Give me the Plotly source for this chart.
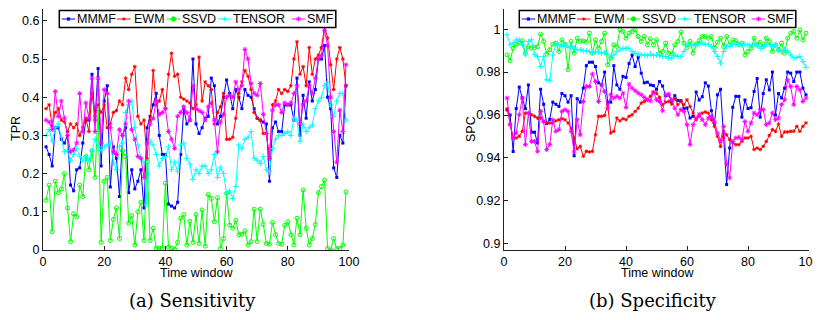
import plotly.graph_objects as go

# the page body has an 8px margin, so the figure is drawn 8px smaller and
# every reference pixel position is shifted by that amount
PAGE_W, PAGE_H = 821, 320
BODY = 8
W, H = PAGE_W - BODY, PAGE_H - BODY

time_window = list(range(1, 100))

# (a) Sensitivity (TPR)
tpr_mmmf = [0.27, 0.25, 0.22, 0.32, 0.32, 0.29, 0.28, 0.30, 0.17, 0.155,
            0.21, 0.215, 0.28, 0.34, 0.34, 0.46, 0.34, 0.475, 0.22, 0.39,
            0.43, 0.165, 0.27, 0.24, 0.14, 0.30, 0.32, 0.15, 0.21, 0.16,
            0.18, 0.21, 0.11, 0.32, 0.35, 0.38, 0.41, 0.30, 0.25, 0.25,
            0.12, 0.115, 0.11, 0.125, 0.25, 0.37, 0.33, 0.34, 0.50, 0.33,
            0.305, 0.32, 0.345, 0.35, 0.45, 0.43, 0.33, 0.35, 0.40, 0.445,
            0.41, 0.37, 0.42, 0.40, 0.37, 0.42, 0.405, 0.40, 0.37, 0.345,
            0.34, 0.335, 0.33, 0.18, 0.32, 0.335, 0.31, 0.31, 0.38, 0.38,
            0.38, 0.34, 0.45, 0.30, 0.405, 0.345, 0.44, 0.39, 0.42, 0.50,
            0.50, 0.535, 0.40, 0.37, 0.215, 0.19, 0.30, 0.28, 0.43]
tpr_ewm = [0.37, 0.38, 0.325, 0.36, 0.37, 0.34, 0.335, 0.31, 0.33, 0.32,
           0.33, 0.30, 0.32, 0.345, 0.31, 0.41, 0.35, 0.38, 0.36, 0.38,
           0.32, 0.33, 0.36, 0.365, 0.39, 0.38, 0.45, 0.42, 0.46, 0.48,
           0.35, 0.33, 0.34, 0.24, 0.34, 0.47, 0.38, 0.39, 0.42, 0.37,
           0.46, 0.515, 0.455, 0.46, 0.40, 0.395, 0.39, 0.385, 0.37, 0.38,
           0.505, 0.39, 0.44, 0.43, 0.42, 0.33, 0.36, 0.375, 0.41, 0.29,
           0.29, 0.295, 0.345, 0.41, 0.44, 0.47, 0.455, 0.42, 0.36, 0.345,
           0.34, 0.305, 0.305, 0.24, 0.38, 0.39, 0.42, 0.41, 0.42, 0.415,
           0.43, 0.50, 0.545, 0.46, 0.48, 0.43, 0.53, 0.46, 0.50, 0.51,
           0.53, 0.585, 0.555, 0.485, 0.42, 0.50, 0.53, 0.50, 0.43]
tpr_ssvd = [0.13, 0.17, 0.048, 0.18, 0.15, 0.16, 0.20, 0.11, 0.022, 0.095,
            0.087, 0.17, 0.14, 0.245, 0.21, 0.26, 0.19, 0.37, 0.02, 0.18,
            0.19, 0.025, 0.08, 0.11, 0.03, 0.26, 0.245, 0.07, 0.09, 0.013,
            0.10, 0.125, 0.025, 0.23, 0.025, 0.057, 0.005, 0.005, 0.005, 0.175,
            0.008, 0.005, 0.002, 0.02, 0.083, 0.093, 0.013, 0.075, 0.02, 0.093,
            0.017, 0.105, 0.01, 0.145, 0.135, 0.074, 0.137, 0.004, 0.03, 0.148,
            0.065, 0.057, 0.078, 0.04, 0.041, 0.05, 0.013, 0.022, 0.107, 0.022,
            0.107, 0.067, 0.017, 0.015, 0.072, 0.04, 0.017, 0.015, 0.065, 0.074,
            0.04, 0.013, 0.083, 0.04, 0.157, 0.057, 0.013, 0.03, 0.067, 0.15,
            0.166, 0.183, 0.004, 0.0, 0.03, 0.003, 0.004, 0.013, 0.152]
tpr_tensor = [0.30, 0.315, 0.285, 0.32, 0.33, 0.295, 0.257, 0.26, 0.235, 0.25,
              0.265, 0.245, 0.235, 0.245, 0.235, 0.26, 0.29, 0.27, 0.26, 0.27,
              0.275, 0.28, 0.23, 0.21, 0.27, 0.28, 0.36, 0.38, 0.39, 0.32,
              0.275, 0.24, 0.23, 0.12, 0.285, 0.275, 0.25, 0.22, 0.24, 0.245,
              0.27, 0.21, 0.23, 0.205, 0.275, 0.28, 0.24, 0.225, 0.185, 0.21,
              0.20, 0.22, 0.22, 0.20, 0.21, 0.25, 0.19, 0.215, 0.20, 0.148,
              0.155, 0.135, 0.166, 0.275, 0.265, 0.29, 0.295, 0.31, 0.24, 0.235,
              0.227, 0.245, 0.21, 0.205, 0.266, 0.29, 0.30, 0.30, 0.305, 0.31,
              0.30, 0.345, 0.34, 0.285, 0.33, 0.31, 0.32, 0.327, 0.37, 0.39,
              0.40, 0.43, 0.44, 0.38, 0.35, 0.39, 0.41, 0.41, 0.34]
tpr_smf = [0.34, 0.335, 0.315, 0.415, 0.35, 0.39, 0.345, 0.30, 0.257, 0.262,
           0.28, 0.41, 0.31, 0.385, 0.345, 0.45, 0.31, 0.45, 0.28, 0.42,
           0.41, 0.32, 0.257, 0.25, 0.315, 0.30, 0.33, 0.39, 0.315, 0.29,
           0.245, 0.24, 0.19, 0.28, 0.33, 0.345, 0.39, 0.355, 0.36, 0.37,
           0.31, 0.29, 0.266, 0.35, 0.36, 0.375, 0.36, 0.34, 0.43, 0.37,
           0.365, 0.36, 0.34, 0.375, 0.385, 0.34, 0.257, 0.335, 0.355, 0.40,
           0.405, 0.40, 0.44, 0.42, 0.43, 0.525, 0.50, 0.436, 0.41, 0.405,
           0.436, 0.355, 0.305, 0.24, 0.366, 0.38, 0.38, 0.36, 0.385, 0.38,
           0.385, 0.41, 0.43, 0.33, 0.38, 0.39, 0.43, 0.41, 0.45, 0.50,
           0.51, 0.575, 0.535, 0.40, 0.31, 0.23, 0.366, 0.31, 0.485]

# (b) Specificity (SPC)
spc_mmmf = [0.9624, 0.960, 0.943, 0.963, 0.973, 0.968, 0.963, 0.974, 0.952, 0.952,
            0.947, 0.972, 0.965, 0.956, 0.958, 0.966, 0.965, 0.964, 0.970, 0.969,
            0.966, 0.969, 0.941, 0.9676, 0.966, 0.9725, 0.983, 0.9846, 0.9846, 0.9826,
            0.975, 0.974, 0.980, 0.966, 0.966, 0.983, 0.974, 0.972, 0.978, 0.9775,
            0.984, 0.988, 0.9826, 0.987, 0.9795, 0.975, 0.9753, 0.974, 0.9737, 0.972,
            0.9756, 0.9735, 0.969, 0.9693, 0.966, 0.969, 0.9668, 0.9667, 0.963, 0.9633,
            0.9586, 0.9594, 0.9707, 0.967, 0.9685, 0.975, 0.9735, 0.962, 0.956, 0.9694,
            0.972, 0.952, 0.9276, 0.9446, 0.9636, 0.9687, 0.9687, 0.959, 0.967, 0.963,
            0.9634, 0.971, 0.977, 0.959, 0.970, 0.9764, 0.9717, 0.980, 0.960, 0.970,
            0.968, 0.9725, 0.980, 0.9795, 0.9756, 0.980, 0.980, 0.9725, 0.9694]
spc_ewm = [0.9629, 0.9555, 0.9496, 0.9493, 0.9501, 0.9524, 0.9609, 0.9609, 0.9601, 0.9594,
           0.9586, 0.9586, 0.957, 0.9563, 0.9563, 0.9563, 0.9573, 0.9578, 0.9583, 0.9578,
           0.9563, 0.9539, 0.9493, 0.9443, 0.9454, 0.9408, 0.9431, 0.9428, 0.9431, 0.9508,
           0.9594, 0.9594, 0.9598, 0.9648, 0.9516, 0.9524, 0.9586, 0.9573, 0.9583, 0.9578,
           0.9594, 0.9601, 0.9617, 0.9632, 0.9656, 0.9663, 0.9671, 0.9687, 0.9707, 0.9702,
           0.9682, 0.9648, 0.966, 0.9663, 0.9651, 0.9676, 0.9648, 0.9663, 0.9648, 0.9671,
           0.964, 0.9609, 0.9578, 0.9594, 0.9609, 0.9614, 0.9609, 0.9578, 0.9547, 0.9501,
           0.9454, 0.9524, 0.9508, 0.9485, 0.947, 0.9462, 0.9462, 0.9477, 0.9493, 0.9493,
           0.9501, 0.9439, 0.9446, 0.9439, 0.9454, 0.9477, 0.9505, 0.9532, 0.9524, 0.9558,
           0.9501, 0.9521, 0.9521, 0.9524, 0.9524, 0.9547, 0.9524, 0.9547, 0.9563]
spc_ssvd = [0.988, 0.9853, 0.9911, 0.993, 0.9935, 0.9946, 0.9888, 0.9919, 0.9911, 0.9915,
            0.9919, 0.9977, 0.9943, 0.9884, 0.9904, 0.993, 0.9935, 0.9896, 0.995, 0.993,
            0.9811, 0.9943, 0.9888, 0.9958, 0.9943, 0.9946, 0.9939, 0.9981, 0.9888, 0.995,
            0.9911, 0.9943, 0.9981, 0.9834, 0.9865, 0.9927, 0.9919, 0.9997, 0.9989, 0.9958,
            0.9981, 0.9989, 0.9997, 0.9966, 0.9943, 0.9966, 0.9927, 0.9955, 0.9927, 0.995,
            0.9888, 0.9896, 0.9935, 0.9888, 0.9884, 0.9927, 0.9943, 0.9986, 0.9935, 0.9915,
            0.9943, 0.9888, 0.993, 0.9946, 0.9966, 0.9966, 0.9958, 0.9966, 0.9915, 0.9939,
            0.9958, 0.9919, 0.9966, 0.9927, 0.995, 0.9946, 0.9927, 0.9935, 0.988, 0.9896,
            0.9911, 0.9958, 0.9927, 0.9939, 0.9919, 0.9958, 0.9943, 0.9896, 0.9927, 0.9904,
            0.9935, 0.9888, 0.9958, 0.9981, 0.9989, 0.9958, 0.9997, 0.995, 0.9981]
spc_tensor = [0.9974, 0.9927, 0.9935, 0.995, 0.995, 0.9927, 0.988, 0.9943, 0.995, 0.9884,
              0.9873, 0.9826, 0.9873, 0.9764, 0.976, 0.988, 0.993, 0.9927, 0.9919, 0.9927,
              0.9915, 0.9919, 0.9911, 0.9904, 0.9904, 0.9899, 0.9899, 0.9896, 0.9893, 0.9896,
              0.9893, 0.9888, 0.9891, 0.9884, 0.9868, 0.988, 0.9896, 0.9904, 0.9911, 0.9911,
              0.9911, 0.9896, 0.9888, 0.9884, 0.988, 0.988, 0.9877, 0.9884, 0.9877, 0.988,
              0.9877, 0.9873, 0.9873, 0.9865, 0.9865, 0.988, 0.9873, 0.9873, 0.9896, 0.9927,
              0.993, 0.9924, 0.9927, 0.993, 0.9935, 0.993, 0.993, 0.9919, 0.9896, 0.9873,
              0.9842, 0.9896, 0.9919, 0.9919, 0.993, 0.9927, 0.993, 0.9927, 0.993, 0.9927,
              0.9924, 0.993, 0.9927, 0.9911, 0.9919, 0.993, 0.993, 0.9919, 0.9927, 0.9904,
              0.9896, 0.9904, 0.9899, 0.988, 0.9865, 0.9868, 0.9873, 0.9849, 0.9822]
spc_smf = [0.9679, 0.9555, 0.9493, 0.9516, 0.9601, 0.9679, 0.9462, 0.9609, 0.9477, 0.9477,
           0.9431, 0.9617, 0.957, 0.9439, 0.9462, 0.9578, 0.9524, 0.9532, 0.9617, 0.9625,
           0.9617, 0.9524, 0.9428, 0.9578, 0.9508, 0.9663, 0.9733, 0.9733, 0.9791, 0.9756,
           0.9663, 0.9741, 0.971, 0.9632, 0.9694, 0.9679, 0.9687, 0.9679, 0.9702, 0.9635,
           0.9744, 0.9725, 0.9713, 0.9702, 0.9694, 0.9682, 0.9671, 0.9666, 0.9707, 0.9671,
           0.9663, 0.962, 0.9694, 0.9697, 0.9671, 0.9632, 0.9601, 0.9625, 0.9617, 0.9555,
           0.9462, 0.9555, 0.9586, 0.9604, 0.9578, 0.9555, 0.9586, 0.9594, 0.9567, 0.9516,
           0.948, 0.9547, 0.9372, 0.9307, 0.9477, 0.9493, 0.9496, 0.9485, 0.957, 0.9524,
           0.9563, 0.9609, 0.9601, 0.9625, 0.9625, 0.9555, 0.9563, 0.9609, 0.9578, 0.9586,
           0.9648, 0.9671, 0.9764, 0.9733, 0.9648, 0.9733, 0.9718, 0.9663, 0.9679]

method_names = ["MMMF", "EWM", "SSVD", "TENSOR", "SMF"]
tpr_series = [tpr_mmmf, tpr_ewm, tpr_ssvd, tpr_tensor, tpr_smf]
spc_series = [spc_mmmf, spc_ewm, spc_ssvd, spc_tensor, spc_smf]

x_ticks = [0, 20, 40, 60, 80, 100]
tpr_ticks = [0, 0.1, 0.2, 0.3, 0.4, 0.5, 0.6]
tpr_tick_labels = ["0", "0.1", "0.2", "0.3", "0.4", "0.5", "0.6"]
spc_ticks = [0.9, 0.92, 0.94, 0.96, 0.98, 1.0]
spc_tick_labels = ["0.9", "0.92", "0.94", "0.96", "0.98", "1"]

STYLES = {
    "MMMF": dict(color="#0000ff", symbol="square", size=3, lw=0),
    "EWM": dict(color="#ff0000", symbol="asterisk-open", size=3, lw=1),
    "SSVD": dict(color="#00ff00", symbol="circle-open", size=4, lw=1),
    "TENSOR": dict(color="#00ffff", symbol="cross-thin-open", size=4, lw=1),
    "SMF": dict(color="#ff00ff", symbol="asterisk-open", size=4, lw=1),
}

FONT = "Liberation Sans, Arial, sans-serif"
FS = 12.5


def fx(x):
    return (x - BODY) / W


def fy(y):
    return 1 - (y - BODY) / H


fig = go.Figure()

for xa, ya, series in [("x", "y", tpr_series), ("x2", "y2", spc_series)]:
    for name, values in zip(method_names, series):
        st = STYLES[name]
        fig.add_scatter(
            x=time_window,
            y=values,
            mode="lines+markers",
            name=name,
            xaxis=xa,
            yaxis=ya,
            showlegend=False,
            line=dict(color=st["color"], width=1),
            marker=dict(
                symbol=st["symbol"],
                size=st["size"],
                color=st["color"],
                line=dict(color=st["color"], width=st["lw"]),
            ),
        )

axis_common = dict(
    automargin=False,
    showgrid=False,
    zeroline=False,
    showline=True,
    linecolor="#222222",
    linewidth=1,
    ticks="inside",
    ticklen=4,
    tickcolor="#222222",
    ticklabeloverflow="allow",
    tickfont=dict(family=FONT, size=FS, color="black"),
)

fig.update_layout(
    width=W,
    height=H,
    margin=dict(l=0, r=0, t=0, b=0, autoexpand=False),
    paper_bgcolor="white",
    plot_bgcolor="white",
    xaxis=dict(domain=[fx(43), fx(349)], range=[0, 100], tickvals=x_ticks,
               anchor="y", **axis_common),
    yaxis=dict(domain=[fy(250), fy(9)], range=[0, 0.6309], tickvals=tpr_ticks,
               ticktext=tpr_tick_labels, anchor="x", **axis_common),
    xaxis2=dict(domain=[fx(504), fx(809)], range=[0, 100], tickvals=x_ticks,
                anchor="y2", **axis_common),
    yaxis2=dict(domain=[fy(250), fy(9)], range=[0.8971, 1.0094], tickvals=spc_ticks,
                ticktext=spc_tick_labels, anchor="x2", **axis_common),
)

shapes = []
annotations = []

# axis titles and captions
for cx, caption in [(196, "(a) Sensitivity"), (657, "(b) Specificity")]:
    annotations.append(dict(text="Time window", x=fx(cx), y=fy(273), xref="paper", yref="paper",
                            showarrow=False, xanchor="center", yanchor="middle",
                            font=dict(family=FONT, size=FS, color="black")))
    annotations.append(dict(text=caption, x=fx(cx - 4), y=fy(300), xref="paper", yref="paper",
                            showarrow=False, xanchor="center", yanchor="middle",
                            font=dict(family="DejaVu Serif, serif", size=18, color="black")))
for cx, label in [(16, "TPR"), (471, "SPC")]:
    annotations.append(dict(text=label, x=fx(cx), y=fy(129), xref="paper", yref="paper",
                            showarrow=False, textangle=-90, xanchor="center", yanchor="middle",
                            font=dict(family=FONT, size=FS, color="black")))

# compact boxed legends (MATLAB style)
LEGEND_ITEMS = [("MMMF", 2.4, 16.4), ("EWM", 57.7, 73.2), ("SSVD", 107.4, 121.2),
                ("TENSOR", 158.7, 173.2), ("SMF", 232.4, 246.2)]
SAMPLE_LEN = 13.5


def line_shape(x0, y0, x1, y1, color, width=1):
    return dict(type="line", xref="paper", yref="paper", x0=fx(x0), y0=fy(y0),
                x1=fx(x1), y1=fy(y1), line=dict(color=color, width=width))


def glyph(cx, cy, name):
    st = STYLES[name]
    c = st["color"]
    if name == "MMMF":
        return [dict(type="rect", xref="paper", yref="paper", x0=fx(cx - 1.6), x1=fx(cx + 1.6),
                     y0=fy(cy + 1.6), y1=fy(cy - 1.6), fillcolor=c, line=dict(width=0))]
    if name == "SSVD":
        return [dict(type="circle", xref="paper", yref="paper", x0=fx(cx - 2.2), x1=fx(cx + 2.2),
                     y0=fy(cy + 2.2), y1=fy(cy - 2.2), fillcolor=c, line=dict(color=c, width=1))]
    r = 2.4 if name != "EWM" else 1.6
    out = [line_shape(cx - r, cy, cx + r, cy, c), line_shape(cx, cy - r, cx, cy + r, c)]
    if name in ("EWM", "SMF"):
        d = r * 0.7
        out += [line_shape(cx - d, cy - d, cx + d, cy + d, c),
                line_shape(cx - d, cy + d, cx + d, cy - d, c)]
    return out


for left in (59.3, 519.3):
    top, bottom = 10.5, 27.5
    mid = (top + bottom) / 2
    shapes.append(dict(type="rect", xref="paper", yref="paper", x0=fx(left), x1=fx(left + 276.5),
                       y0=fy(bottom), y1=fy(top), line=dict(color="black", width=1.5),
                       fillcolor="white", layer="above"))
    for name, line_off, text_off in LEGEND_ITEMS:
        c = STYLES[name]["color"]
        x0 = left + line_off
        shapes.append(line_shape(x0, mid, x0 + SAMPLE_LEN, mid, c))
        shapes.extend(glyph(x0 + SAMPLE_LEN / 2, mid, name))
        annotations.append(dict(text=name, x=fx(left + text_off), y=fy(mid), xref="paper",
                                yref="paper", showarrow=False, xanchor="left", yanchor="middle",
                                borderpad=0, font=dict(family=FONT, size=FS, color="black")))

fig.update_layout(shapes=shapes, annotations=annotations)

fig.write_html("out.html")
